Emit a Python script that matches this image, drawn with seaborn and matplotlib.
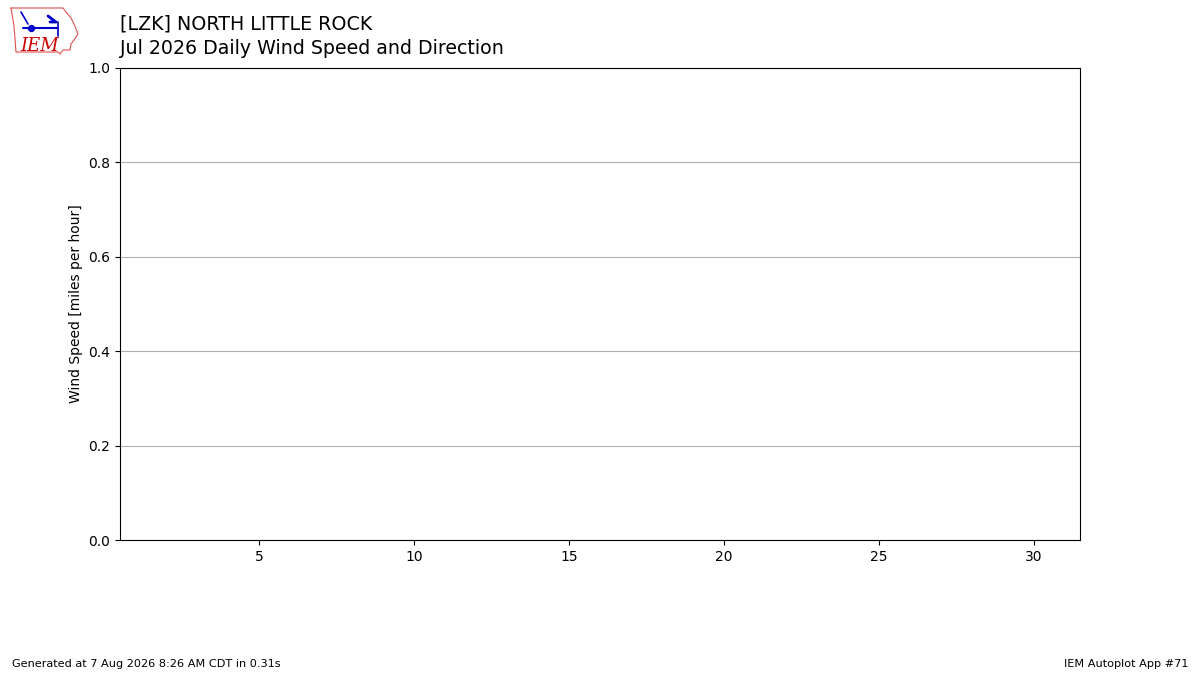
import matplotlib
matplotlib.use("Agg")
import matplotlib.pyplot as plt
import seaborn as sns
import pandas as pd

# --- Data (no observations for this month) ---
days = list(range(1, 32))
speed_mph = []          # no data reported
direction_deg = []      # no data reported
xticks = [5, 10, 15, 20, 25, 30]
yticks = [0.0, 0.2, 0.4, 0.6, 0.8, 1.0]

sns.set_style("white")
plt.rcParams['font.family'] = ['DejaVu Sans']
plt.rcParams['text.color'] = 'black'
plt.rcParams['axes.labelcolor'] = 'black'

fig = plt.figure(figsize=(12, 6.75), dpi=100)
ax = fig.add_axes([0.1, 0.2, 0.8, 0.6993])

df = pd.DataFrame({"day": days[:len(speed_mph)], "speed": speed_mph})
if len(df):
    sns.barplot(data=df, x="day", y="speed", ax=ax)

ax.set_xlim(0.5, 31.5)
ax.set_ylim(0, 1)
ax.set_xticks(xticks)
ax.set_yticks(yticks)
ax.set_yticklabels([f"{v:.1f}" for v in yticks])
ax.yaxis.grid(True, color="#b0b0b0", linewidth=0.8)
ax.xaxis.grid(False)
for s in ax.spines.values():
    s.set_color("black")
    s.set_linewidth(0.8)
ax.tick_params(axis="both", direction="out", length=3.5, width=0.8, labelsize=10, colors="black")
ax.tick_params(axis="both", left=True, bottom=True)
ax.set_ylabel("Wind Speed [miles per hour]", fontsize=10, color="black")
ax.set_xlabel("")

fig.text(0.1, 1 - 24 / 675, "[LZK] NORTH LITTLE ROCK", fontsize=13.7, va="center", ha="left", color="black")
fig.text(0.1, 1 - 48 / 675, "Jul 2026 Daily Wind Speed and Direction", fontsize=13.7, va="center", ha="left", color="black")

fig.text(0.01, 1 - 664 / 675, "Generated at 7 Aug 2026 8:26 AM CDT in 0.31s", fontsize=8.1, va="center", ha="left", color="black")
fig.text(0.99, 1 - 664 / 675, "IEM Autoplot App #71", fontsize=8.1, va="center", ha="right", color="black")

# --- simple IEM logo ---
lax = fig.add_axes([8 / 1200, 1 - 58 / 675, 72 / 1200, 52 / 675])
lax.set_xlim(0, 72)
lax.set_ylim(52, 0)
lax.axis("off")
outline_x = [3, 55, 58, 63, 66, 70, 66, 63, 62, 55, 52, 50, 8, 6, 3]
outline_y = [2, 2, 6, 12, 18, 28, 34, 38, 44, 44, 48, 46, 46, 20, 2]
lax.plot(outline_x, outline_y, color="#e05050", linewidth=0.8)
lax.plot([15, 50], [22, 22], color="#0000cc", linewidth=1.5)
lax.plot([13, 20], [6, 18], color="#0000cc", linewidth=1.2)
lax.plot([40, 48, 42], [10, 16, 16], color="#0000cc", linewidth=2)
lax.plot([50, 50], [16, 30], color="#0000cc", linewidth=1.2)
lax.scatter([23], [22], s=18, color="#0000cc")
lax.text(12, 40, "IEM", color="#cc0000", fontsize=13, fontstyle="italic",
         family="DejaVu Serif", va="center", ha="left")

fig.savefig("out.png", dpi=100)
